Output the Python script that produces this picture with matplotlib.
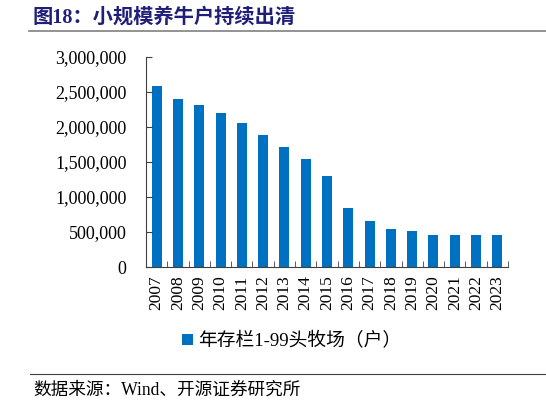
import numpy as np
from matplotlib import pyplot as plt

plt.rcParams['font.family'] = ['Liberation Serif', 'Noto Sans CJK SC']

years = [str(y) for y in range(2007, 2024)]
farms = [2590000, 2400000, 2310000, 2196000, 2053000, 1880000, 1710000, 1547000,
         1296000, 847000, 657000, 538000, 510000, 462000, 462000, 453000, 453000]
yticks = [0, 500000, 1000000, 1500000, 2000000, 2500000, 3000000]

fig = plt.figure(figsize=(5.46, 4.05), dpi=100)
ax = fig.add_axes([146/546, 1 - 267/405, 362/546, 210/405])

x = np.arange(len(years))
bars = ax.bar(x, farms, width=0.47, color='#0070C0', label='年存栏1-99头牧场（户）')

ax.set_xlim(-0.5, len(years) - 0.5)
ax.set_ylim(0, 3000000)
ax.set_yticks(yticks)
ax.set_yticklabels(['{:,}'.format(v) for v in yticks], fontsize=13)
ax.set_xticks(x)
ax.set_xticklabels(years, rotation=90, fontsize=12.5)
ax.tick_params(axis='x', length=0, pad=6)
ax.set_xticks(np.arange(-0.5, len(years)), minor=True)
ax.tick_params(axis='x', which='minor', direction='in', length=4, color='#404040')
ax.tick_params(axis='y', direction='in', length=4, color='#404040', pad=14)
for s in ['top', 'right']:
    ax.spines[s].set_visible(False)
for s in ['left', 'bottom']:
    ax.spines[s].set_color('#404040')

leg = fig.legend(handles=[bars], loc='center', bbox_to_anchor=(292/546, 1 - 341/405),
                 frameon=False, fontsize=13.5, handlelength=0.55, handleheight=0.55,
                 handletextpad=0.3)

fig.text(33/546, 1 - 18/405, '图18：小规模养牛户持续出清', fontsize=14.6, fontweight='bold',
         color='#1F1F7A', va='center', ha='left')
fig.add_artist(plt.Line2D([29/546, 1], [1 - 31/405, 1 - 31/405], color='#808080', lw=1.2))
fig.add_artist(plt.Line2D([30/546, 1], [1 - 374/405, 1 - 374/405], color='#404040', lw=0.8))
fig.text(33/546, 1 - 390/405, '数据来源：Wind、开源证券研究所', fontsize=12.7,
         va='center', ha='left')

fig.savefig('out.png', dpi=100)
